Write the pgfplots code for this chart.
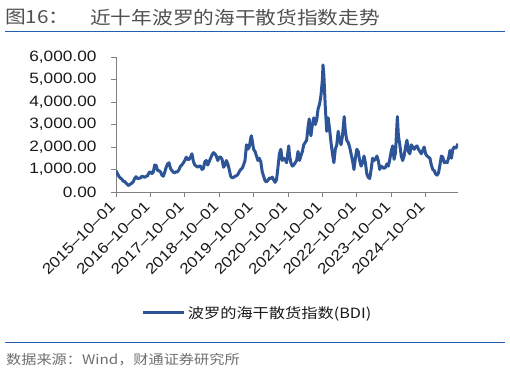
\documentclass[border=0pt]{standalone}
\usepackage{pgfplots}
\pgfplotsset{compat=1.18}
\usepackage{pgfplotstable}
\usepackage{fontspec}
\setmainfont{Liberation Sans}[FakeStretch=1.15]
\newfontfamily\cjk{Noto Sans CJK SC}[FakeStretch=1.15]
\definecolor{bdiblue}{RGB}{44,84,150}
\definecolor{ruleblue}{RGB}{32,96,180}
\definecolor{titlegray}{RGB}{80,80,80}
\definecolor{srcgray}{RGB}{110,110,110}
\definecolor{axisgray}{RGB}{128,128,128}
\definecolor{labelblack}{RGB}{25,25,25}
\pgfplotstableread{
m v
0 950
0.5 820
1 700
1.5 620
2 580
2.5 480
3 470
3.5 400
4 330
4.3 290
4.6 310
5 350
5.5 390
6 450
6.5 600
7 680
7.5 600
8 610
8.5 620
9 700
9.5 680
10 650
10.5 700
11 720
11.5 860
12 900
12.5 820
13 880
13.5 1200
14 1180
14.5 950
15 950
15.5 900
16 750
16.5 700
17 880
17.5 1100
18 1250
18.5 1300
19 1050
19.5 950
20 880
20.5 850
21 900
21.5 900
22 1000
22.5 1150
23 1200
23.5 1300
24 1400
24.5 1550
25 1450
25.5 1450
26 1550
26.5 1700
27 1350
27.5 1200
28 1150
28.5 1100
29 1150
29.5 1150
30 1000
30.5 1050
31 1350
31.5 1400
32 1200
32.5 1350
33 1500
33.5 1650
34 1750
34.5 1700
35 1600
35.5 1400
36 1550
36.5 1550
37 1450
37.5 1100
38 1200
38.5 1400
39 1250
39.5 1000
40 700
40.5 630
41 650
41.5 700
42 720
42.5 780
43 900
43.5 1000
44 1050
44.5 1200
45 1400
45.5 2100
46 1900
46.5 2000
47 2400
47.2 2500
47.5 2300
48 1900
48.5 1800
49 1600
49.5 1400
50 1500
50.5 1350
51 900
51.5 700
52 500
52.5 450
53 520
53.5 620
54 600
54.5 660
55 540
55.5 430
56 550
56.5 1100
57 1700
57.5 1900
58 1400
58.5 1500
59 1450
59.5 1300
60 1800
60.25 2050
60.5 1650
61 1300
61.5 1150
62 1200
62.5 1300
63 1400
63.5 1800
64 1400
64.5 1600
65 1800
65.5 2100
66 2200
66.5 2300
67 2900
67.4 3250
67.6 2800
68 2500
68.5 3000
69 3300
69.5 3000
70 3200
70.5 3700
71 3900
71.5 4300
72 5000
72.2 5650
72.5 5200
73 3800
73.5 2700
74 3300
74.5 2800
75 2200
75.5 1700
76 1300
76.5 1900
77 2100
77.5 2700
78 2300
78.5 2100
79 2500
79.6 3350
80 2700
80.5 2300
81 2200
81.5 2000
82 1700
82.5 1400
83 1000
83.5 1500
84 1900
84.5 1800
85 1400
85.5 1150
86 1300
86.5 1600
87 1300
87.5 800
88 650
88.5 600
89 1000
89.5 1500
90 1400
90.5 1450
91 1600
91.5 1400
92 1000
92.5 1150
93 1100
93.5 1050
94 1100
94.5 1250
95 1150
95.5 1450
96 1800
96.5 2050
97 1450
97.5 1750
98 3000
98.15 3350
98.5 2500
99 2100
99.5 1600
100 1400
100.5 1600
101 2000
101.5 2300
102 1800
102.5 1700
103 2100
103.5 2000
104 1900
104.5 2000
105 2050
105.5 1900
106 1800
106.5 1700
107 1850
107.5 2000
108 1700
108.5 1600
109 1550
109.5 1500
110 1200
110.5 1000
111 950
111.5 800
112 750
112.5 850
113 1200
113.5 1600
114 1550
114.5 1300
115 1350
115.5 1300
116 1500
116.5 1850
117 1500
117.5 1900
118 2000
118.5 1950
119 2050
119.3 2150
}\bdi
\begin{document}
\begin{tikzpicture}[x=1pt,y=1pt]
\useasboundingbox (0,0) rectangle (510,373);
\node[anchor=west,inner sep=0,text=titlegray,font=\cjk\fontsize{18}{20}\selectfont] at (5,355.5) {图16：};
\node[anchor=west,inner sep=0,text=titlegray,font=\cjk\fontsize{18}{20}\selectfont] at (90,355.5) {近十年波罗的海干散货指数走势};
\draw[ruleblue,line width=1pt] (5,341) -- (505,341);
\draw[ruleblue,line width=1pt] (5,31) -- (505,31);
\node[anchor=west,inner sep=0,text=srcgray,font=\cjk\fontsize{13.2}{15}\selectfont] at (6,13) {数据来源：Wind，财通证券研究所};
\begin{axis}[
  at={(116pt,181pt)}, anchor=south west,
  scale only axis, width=342pt, height=135pt,
  xmin=0, xmax=119.3, ymin=0, ymax=6000,
  axis lines=left, axis line style={-, axisgray, line width=0.8pt},
  tick align=outside, major tick length=5pt,
  tick style={axisgray, line width=0.8pt},
  xtick={0,12,...,108},
  xticklabels={2015--10--01,2016--10--01,2017--10--01,2018--10--01,2019--10--01,2020--10--01,2021--10--01,2022--10--01,2023--10--01,2024--10--01},
  ytick={0,1000,...,6000},
  /pgf/number format/.cd, fixed, fixed zerofill, precision=2, 1000 sep={,}, assume math mode=true,
  /pgfplots/.cd,
  yticklabel style={font=\fontsize{15}{17}\selectfont, text=labelblack, xshift=-11pt},
  xticklabel style={font=\fontsize{15}{17}\selectfont, text=labelblack, yshift=-5pt, xshift=-1pt, rotate=45, anchor=east},
  legend style={at={(0.414,-0.896)}, anchor=center, draw=none, fill=none,
    font=\cjk\fontsize{14.1}{16}\selectfont, text=labelblack},
  legend image code/.code={\draw[#1, line width=3pt] (0pt,0pt) -- (41pt,0pt);},
]
\addplot[bdiblue, line width=3pt, line join=round] table[x=m,y=v] {\bdi};
\addlegendentry{波罗的海干散货指数(BDI)}
\end{axis}
\end{tikzpicture}
\end{document}
